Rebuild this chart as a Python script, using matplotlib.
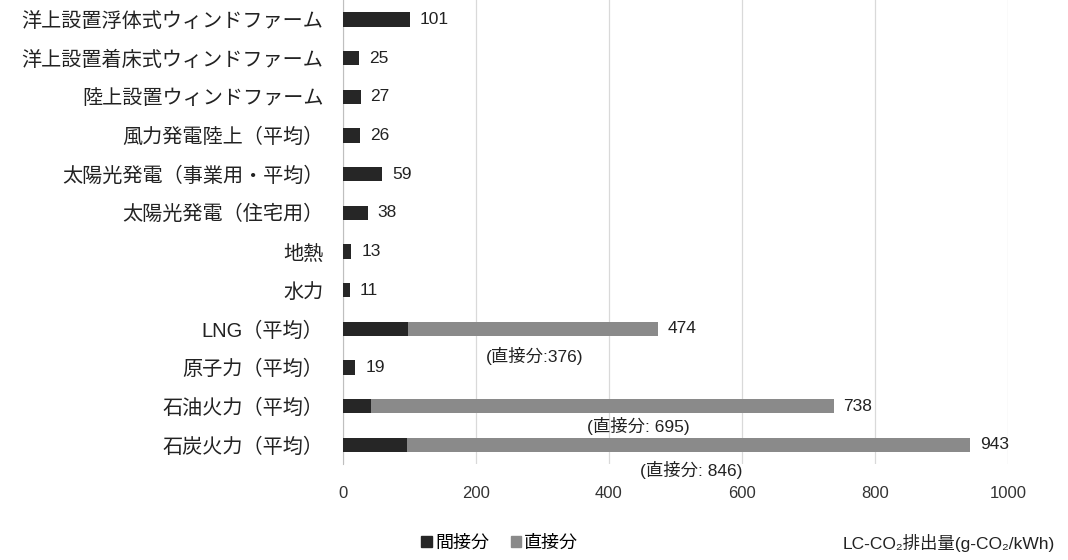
import matplotlib.pyplot as plt
from matplotlib.patches import Patch

plt.rcParams['font.family'] = ['Liberation Sans', 'Noto Sans CJK JP', 'DejaVu Sans']

# Life-cycle CO2 emissions by power source (g-CO2/kWh)
sources = [
    "洋上設置浮体式ウィンドファーム",
    "洋上設置着床式ウィンドファーム",
    "陸上設置ウィンドファーム",
    "風力発電陸上（平均）",
    "太陽光発電（事業用・平均）",
    "太陽光発電（住宅用）",
    "地熱",
    "水力",
    "LNG（平均）",
    "原子力（平均）",
    "石油火力（平均）",
    "石炭火力（平均）",
]
totals = [101, 25, 27, 26, 59, 38, 13, 11, 474, 19, 738, 943]
direct = [0, 0, 0, 0, 0, 0, 0, 0, 376, 0, 695, 846]
indirect = [t - d for t, d in zip(totals, direct)]

dark = "#262626"
gray = "#8a8a8a"

fig = plt.figure(figsize=(10.68, 5.6), dpi=100)
ax = fig.add_axes([0.321, 0.171, 0.623, 0.829])

ypos = list(range(len(sources)))
ax.barh(ypos, indirect, height=0.37, color=dark, zorder=3)
ax.barh(ypos, direct, left=indirect, height=0.37, color=gray, zorder=3)

# total labels at bar ends
for y, t in zip(ypos, totals):
    ax.annotate(str(t), (t, y), xytext=(7, 0), textcoords="offset points",
                va="center", ha="left", fontsize=12.5, color="#222222")

# direct-emission notes under the fossil bars
notes = {8: ("(直接分:376)", 289, 0.70),
         10: ("(直接分: 695)", 444, 0.50),
         11: ("(直接分: 846)", 523, 0.65)}
for y, (txt, x, dy) in notes.items():
    ax.text(x, y + dy, txt, ha="center", va="center", fontsize=12.5,
            color="#222222", clip_on=False)

ax.set_ylim(len(sources) - 0.5, -0.5)
ax.set_xlim(0, 1000)
ax.set_xticks([0, 200, 400, 600, 800, 1000])
ax.set_yticks(ypos)
ax.set_yticklabels(sources, fontsize=14.5, color="#222222")
ax.tick_params(axis="x", labelsize=12, colors="#333333", length=0, pad=16)
ax.tick_params(axis="y", length=0, pad=14)
ax.grid(axis="x", color="#d9d9d9", linewidth=0.9, zorder=0)
for side in ["top", "right", "bottom"]:
    ax.spines[side].set_visible(False)
ax.spines["left"].set_color("#bfbfbf")

handles = [Patch(color=dark, label="間接分"), Patch(color=gray, label="直接分")]
fig.legend(handles=handles, loc="center", bbox_to_anchor=(0.468, 0.03), ncol=2,
           frameon=False, fontsize=13, handlelength=0.6, handleheight=0.6,
           handletextpad=0.15, columnspacing=1.2)

fig.text(0.988, 0.03, "LC-CO₂排出量(g-CO₂/kWh)", ha="right", va="center",
         fontsize=12.5, color="#222222")

fig.savefig("out.png", dpi=100)
